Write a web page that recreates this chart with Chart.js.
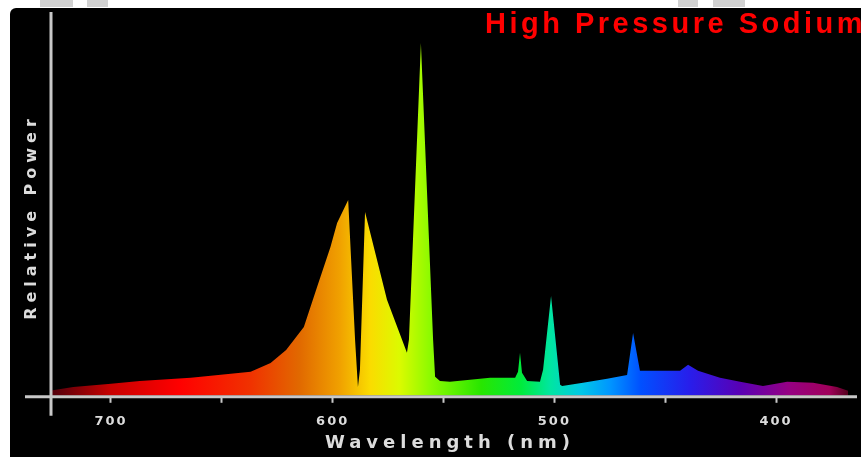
<!DOCTYPE html>
<html>
<head>
<meta charset="utf-8">
<script src="https://cdn.jsdelivr.net/npm/chart.js@4.4.1/dist/chart.umd.min.js"></script>
<style>
  html, body { margin: 0; padding: 0; background: #fff; }
  #wrap { position: relative; width: 861px; height: 457px; }
</style>
</head>
<body>
<div id="wrap"><canvas id="myChart"></canvas></div>
<script>
  // spectrum: wavelength (nm) and relative power (main peak = 100)
  const wavelengths = [727, 717, 700, 687, 664, 637, 628, 621, 613, 607, 601, 598, 593, 589.9, 588.6, 587.7, 585.4, 575.5,
    566.5, 565.6, 560.2, 554.7, 553.8, 551.6, 547.1, 529, 517.7, 516.4, 515.5, 514.6, 512.3, 506.5, 505.1, 501.5,
    497.4, 496.5, 487.1, 476.2, 467.2, 464.5, 461.4, 443.3, 439.7, 435.2, 425.3, 416.2, 405.9, 395, 383.3, 372.5, 367.5];
  const power = [1.5, 2.5, 3.4, 4.2, 5.1, 6.8, 9.3, 13.0, 19.5, 30.9, 42.2, 49.0, 55.5, 15.9, 2.5, 7.4, 52.1, 27.2,
    12.2, 15.9, 100, 15.9, 5.4, 4.2, 4.0, 5.1, 5.1, 6.8, 12.2, 6.5, 4.2, 4.0, 7.4, 28.3,
    3.1, 2.8, 3.7, 4.8, 5.9, 17.8, 7.1, 7.1, 8.8, 7.1, 5.1, 4.0, 2.8, 4.0, 3.7, 2.5, 1.4];

  const tickValues = [400, 450, 500, 550, 600, 650, 700];
  const labelValues = [400, 500, 600, 700];

  const chartTitle = 'High Pressure Sodium';
  const xTitle = 'Wavelength (nm)';
  const yTitle = 'Relative Power';

  // rainbow colours along the wavelength axis
  const gradientStops = [
    [727, 'rgb(80,0,12)'], [700, 'rgb(200,0,0)'], [669, 'rgb(255,0,0)'], [637, 'rgb(240,50,0)'],
    [615, 'rgb(225,105,0)'], [597, 'rgb(240,160,0)'], [583, 'rgb(250,220,0)'], [570, 'rgb(220,250,0)'],
    [556, 'rgb(140,250,0)'], [533, 'rgb(40,230,0)'], [515, 'rgb(0,235,60)'], [502, 'rgb(0,230,160)'],
    [488, 'rgb(0,200,230)'], [475, 'rgb(0,150,255)'], [461, 'rgb(0,80,255)'], [439, 'rgb(40,30,235)'],
    [416, 'rgb(90,0,180)'], [394, 'rgb(150,0,130)'], [376, 'rgb(160,0,90)'], [367, 'rgb(80,0,25)']
  ];

  function spectrumGradient(chart) {
    if (!chart.chartArea) return 'red';
    const xs = chart.scales.x;
    const x0 = chart.chartArea.left, x1 = chart.chartArea.right;
    const g = chart.ctx.createLinearGradient(x0, 0, x1, 0);
    gradientStops.forEach(s => {
      let p = (xs.getPixelForValue(s[0]) - x0) / (x1 - x0);
      p = Math.min(1, Math.max(0, p));
      g.addColorStop(p, s[1]);
    });
    return g;
  }

  // black panel, axis lines and titles
  const panel = {
    id: 'panel',
    beforeDraw(chart) {
      const ctx = chart.ctx;
      ctx.save();
      ctx.fillStyle = '#000';
      ctx.beginPath();
      ctx.roundRect(10, 8, 870, 470, 6);
      ctx.fill();
      ctx.fillStyle = '#d2d2d2';
      ctx.fillRect(40, 0, 33, 7);
      ctx.fillRect(87, 0, 21, 7);
      ctx.fillRect(678, 0, 20, 7);
      ctx.fillRect(713, 0, 32, 7);
      ctx.restore();
      ctx.letterSpacing = '2px';   // tick labels are spaced out a little
    },
    afterDraw(chart) {
      const ctx = chart.ctx, a = chart.chartArea;
      ctx.save();
      ctx.strokeStyle = '#c8c8c8';
      ctx.lineWidth = 3;
      ctx.beginPath();
      ctx.moveTo(a.left + 1, a.top);
      ctx.lineTo(a.left + 1, a.bottom + 20);
      ctx.moveTo(a.left - 25, a.bottom + 1);
      ctx.lineTo(a.right, a.bottom + 1);
      ctx.stroke();

      ctx.fillStyle = '#dcdcdc';
      ctx.textAlign = 'center';
      ctx.textBaseline = 'middle';
      ctx.letterSpacing = '5px';
      ctx.font = 'bold 18px "DejaVu Sans"';
      ctx.fillText(xTitle, 450, 443);

      ctx.save();
      ctx.translate(32, 217);
      ctx.rotate(-Math.PI / 2);
      ctx.letterSpacing = '5px';
      ctx.font = 'bold 16px "DejaVu Sans"';
      ctx.fillText(yTitle, 0, 0);
      ctx.restore();

      ctx.fillStyle = '#ff0000';
      ctx.textAlign = 'left';
      ctx.textBaseline = 'alphabetic';
      ctx.letterSpacing = '3.5px';
      ctx.font = 'bold 29px "Liberation Sans"';
      ctx.fillText(chartTitle, 485, 33);
      ctx.restore();
    }
  };

  var canvas = document.getElementById('myChart');
  var setup = {
    type: 'scatter',
    data: {
      datasets: [{
        data: wavelengths.map((w, i) => ({ x: w, y: power[i] })),
        showLine: true,
        fill: 'origin',
        tension: 0,
        pointRadius: 0,
        borderWidth: 0,
        borderColor: 'transparent',
        backgroundColor: c => spectrumGradient(c.chart)
      }]
    },
    options: {
      responsive: true,
      maintainAspectRatio: false,
      animation: false,
      events: [],
      layout: { padding: { left: 50, top: 12, right: 4, bottom: 16.6 } },
      plugins: { legend: { display: false }, tooltip: { enabled: false }, title: { display: false } },
      scales: {
        x: {
          type: 'linear',
          reverse: true,
          min: 363.5,
          max: 727.5,
          afterBuildTicks: s => { s.ticks = tickValues.map(v => ({ value: v })); },
          grid: { display: true, drawOnChartArea: false, drawTicks: true, tickLength: 7, tickColor: '#c8c8c8', tickWidth: 2 },
          border: { display: false },
          ticks: {
            padding: 11,
            color: '#dcdcdc',
            autoSkip: false,
            maxRotation: 0,
            font: { family: 'DejaVu Sans', size: 13, weight: 'bold' },
            callback: v => labelValues.includes(v) ? String(v) : ''
          }
        },
        y: { display: false, min: 0, max: 108.8 }
      }
    },
    plugins: [panel]
  };
  chart = new Chart(canvas, setup);
</script>
</body>
</html>
